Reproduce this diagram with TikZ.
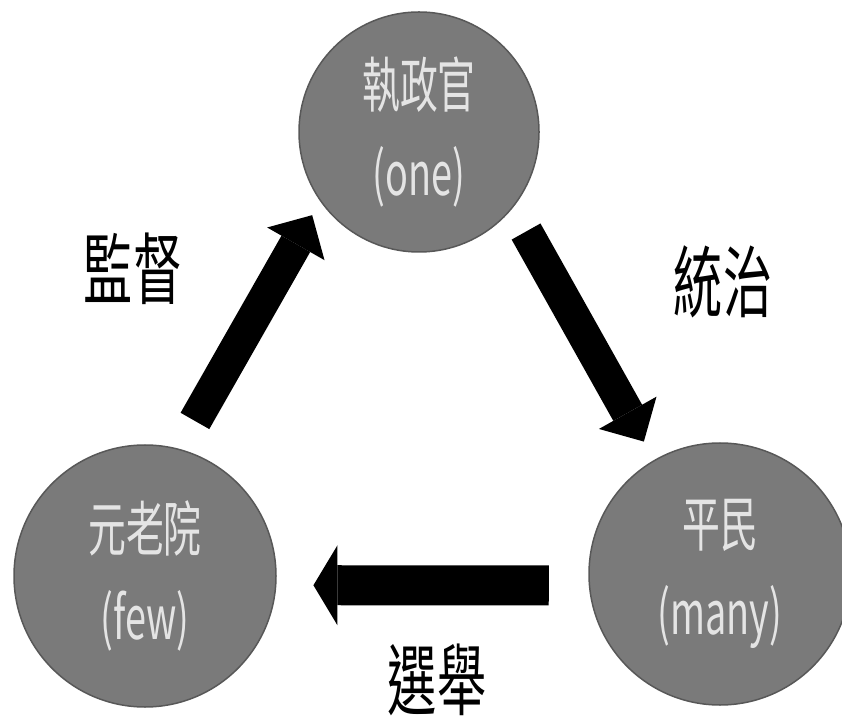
\documentclass[tikz,border=0pt]{standalone}
\usepackage{fontspec}
\newfontfamily\cjkfont[FakeStretch=0.63]{Noto Sans CJK TC}
\usepackage{tikz}
\usetikzlibrary{arrows.meta}

\definecolor{circlegray}{RGB}{122,122,122}
\definecolor{circleedge}{RGB}{88,88,88}
\definecolor{textgray}{RGB}{228,228,228}

\begin{document}
\begin{tikzpicture}[x=1pt, y=1pt,
    party/.style={circle, fill=circlegray, draw=circleedge, line width=1.5pt,
        inner sep=0pt, text=textgray, align=center,
        execute at begin node=\rule{0pt}{80pt},
        font=\cjkfont\fontsize{60}{88}\selectfont},
    slantarrow/.style={line width=33pt,
        -{Triangle[length=33pt, width=66pt, line width=0pt 0]}},
    flatarrow/.style={line width=40pt,
        -{Triangle[length=24pt, width=80pt, line width=0pt 0]}},
    word/.style={font=\cjkfont\fontsize{78}{78}\selectfont}]

   \useasboundingbox (0,0) rectangle (842,720);

   \node[party, minimum size=240pt] (one)  at (419,588) {執政官\\(one)};
   \node[party, minimum size=262pt] (few)  at (145,144) {元老院\\(few)};
   \node[party, minimum size=262pt] (many) at (720,146) {平民\\(many)};

   \draw[slantarrow, shorten <=32pt, shorten >=16pt] (few.75) -- (one.215);
   \draw[slantarrow, shorten <=27pt, shorten >=21pt] (one.-39) -- (many.120);
   \draw[flatarrow, shorten <=40pt, shorten >=37pt] (many.185) -- (few.-4);

   \node[word] (supervise) at (133,451) {監督};
   \node[word] (rule)      at (723,438) {統治};
   \node[word] (elect)     at (437,40)  {選舉};

\end{tikzpicture}
\end{document}
